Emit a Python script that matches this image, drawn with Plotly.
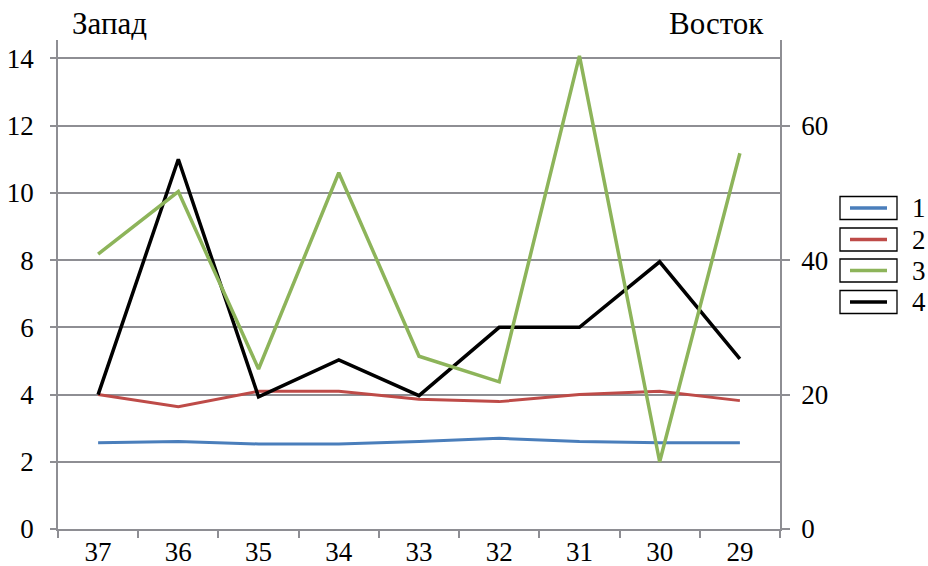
import plotly.graph_objects as go

# Categories along the x axis (left to right)
categories = ["37", "36", "35", "34", "33", "32", "31", "30", "29"]

# Series plotted against the left axis ("Запад")
series_1 = [2.57, 2.6, 2.53, 2.53, 2.6, 2.7, 2.6, 2.57, 2.57]
series_2 = [4.0, 3.64, 4.1, 4.1, 3.86, 3.79, 4.0, 4.1, 3.82]
series_4 = [4.0, 11.0, 3.93, 5.03, 3.97, 6.0, 6.0, 7.95, 5.06]

# Series plotted against the right axis ("Восток")
series_3 = [40.9, 50.2, 23.8, 53.0, 25.7, 21.9, 70.4, 10.0, 55.9]

names = ["1", "2", "3", "4"]
colors = ["#4A7EBB", "#BE4B48", "#8DB45A", "#000000"]

FONT = "Liberation Serif"
GRID = "#8E8E93"
TICK_SIZE = 27
TITLE_SIZE = 31

W, H = 928, 566
L, R, T, B = 58, 148, 40, 37
plot_w = W - L - R
plot_h = H - T - B

left_max = 14.55
right_max = left_max * 5

fig = go.Figure()

fig.add_trace(go.Scatter(x=categories, y=series_1, mode="lines", name=names[0],
                         line=dict(color=colors[0], width=3), yaxis="y"))
fig.add_trace(go.Scatter(x=categories, y=series_2, mode="lines", name=names[1],
                         line=dict(color=colors[1], width=3), yaxis="y"))
fig.add_trace(go.Scatter(x=categories, y=series_3, mode="lines", name=names[2],
                         line=dict(color=colors[2], width=3.5), yaxis="y2"))
fig.add_trace(go.Scatter(x=categories, y=series_4, mode="lines", name=names[3],
                         line=dict(color=colors[3], width=3.5), yaxis="y"))

# Hand-drawn legend: a framed line sample plus a label for every series
def px_to_paper(px, py):
    return (px - L) / plot_w, (H - B - py) / plot_h

shapes = []
annotations = []
centers_y = [208, 239.5, 270.5, 302]
for name, color, cy in zip(names, colors, centers_y):
    x0, y0 = px_to_paper(840, cy - 11.5)
    x1, y1 = px_to_paper(897, cy + 11.5)
    shapes.append(dict(type="rect", xref="paper", yref="paper",
                       x0=x0, x1=x1, y0=y1, y1=y0,
                       line=dict(color="#000000", width=1.3),
                       fillcolor="white"))
    lx0, ly = px_to_paper(850, cy)
    lx1, _ = px_to_paper(887, cy)
    shapes.append(dict(type="line", xref="paper", yref="paper",
                       x0=lx0, x1=lx1, y0=ly, y1=ly,
                       line=dict(color=color, width=3.5)))
    ax, ay = px_to_paper(910, cy)
    annotations.append(dict(text=name, xref="paper", yref="paper",
                            x=ax, y=ay, xanchor="left", yanchor="middle",
                            showarrow=False,
                            font=dict(family=FONT, size=TICK_SIZE, color="#000000")))

# Axis titles placed above each vertical axis
tx, ty = px_to_paper(70, 23)
annotations.append(dict(text="Запад", xref="paper", yref="paper", x=tx, y=ty,
                        xanchor="left", yanchor="middle", showarrow=False,
                        font=dict(family=FONT, size=TITLE_SIZE, color="#000000")))
tx, ty = px_to_paper(766, 23)
annotations.append(dict(text="Восток", xref="paper", yref="paper", x=tx, y=ty,
                        xanchor="right", yanchor="middle", showarrow=False,
                        font=dict(family=FONT, size=TITLE_SIZE, color="#000000")))

fig.update_layout(
    width=W, height=H,
    margin=dict(l=L, r=R, t=T, b=B, autoexpand=False),
    paper_bgcolor="white", plot_bgcolor="white",
    showlegend=False,
    font=dict(family=FONT, size=TICK_SIZE, color="#000000"),
    shapes=shapes,
    annotations=annotations,
    xaxis=dict(
        type="category", categoryorder="array", categoryarray=categories,
        range=[-0.5, len(categories) - 0.5],
        automargin=False,
        showgrid=False, zeroline=False,
        showline=True, linecolor=GRID, linewidth=1.5,
        ticks="outside", tickson="boundaries", ticklen=7,
        tickcolor=GRID, tickwidth=1.5,
        ticklabelstandoff=-2,
        tickfont=dict(family=FONT, size=TICK_SIZE),
    ),
    yaxis=dict(
        range=[0, left_max], tick0=0, dtick=2,
        automargin=False,
        showgrid=True, gridcolor=GRID, gridwidth=1.5,
        zeroline=False,
        showline=True, linecolor=GRID, linewidth=1.5,
        ticks="outside", ticklen=6, tickcolor=GRID, tickwidth=1.5,
        ticklabelstandoff=11,
        tickfont=dict(family=FONT, size=TICK_SIZE),
    ),
    yaxis2=dict(
        range=[0, right_max], tick0=0, dtick=20,
        automargin=False,
        overlaying="y", side="right",
        showgrid=False, zeroline=False,
        showline=True, linecolor=GRID, linewidth=1.5,
        ticks="outside", ticklen=8, tickcolor=GRID, tickwidth=1.5,
        ticklabelstandoff=6,
        tickfont=dict(family=FONT, size=TICK_SIZE),
    ),
)

fig.write_html("out.html")
